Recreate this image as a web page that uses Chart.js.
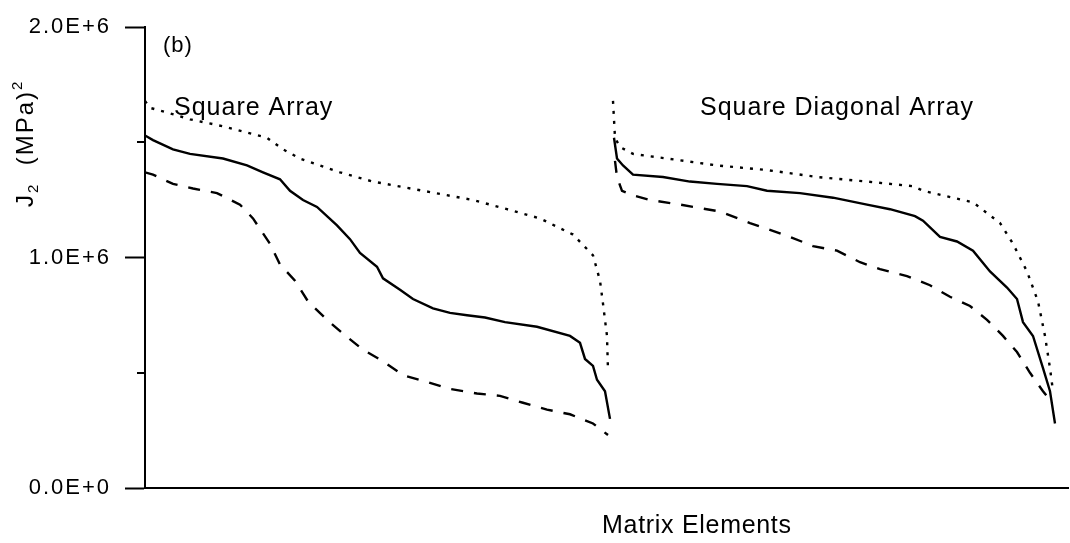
<!DOCTYPE html>
<html>
<head>
<meta charset="utf-8">
<script src="https://cdn.jsdelivr.net/npm/chart.js@4.4.1/dist/chart.umd.min.js"></script>
<style>
  html, body { margin: 0; padding: 0; background: #fff; }
</style>
</head>
<body>
<canvas id="j2Chart" width="1070" height="543"></canvas>
<script>
/* ================================================================
   J2 along the matrix elements, panel (b)
   two fibre arrangements, three curves each (upper / mid / lower)
   values are J2 in units of 1E+6 MPa^2
================================================================ */
const FONT = "'Liberation Sans', Arial, Helvetica, sans-serif";
const INK  = "#000";
const MEGA = 1e6;

/* ── axes ── */
const Y_MIN = 0, Y_MAX = 2.0, Y_STEP = 1.0;
const Y_MINOR = [0.5, 1.5];
const X_MAX = 923;               /* matrix element index range */

/* ── Square Array ── */
const saUpperX = [0, 5, 30, 45, 78, 122, 138, 155, 195, 228, 278, 328, 362, 395, 428, 448, 455, 458, 462, 463];
const saUpperY = [1.68, 1.65, 1.62, 1.60, 1.57, 1.52, 1.47, 1.43, 1.37, 1.33, 1.29, 1.25, 1.21, 1.17, 1.10, 1.01, 0.90, 0.80, 0.66, 0.51];

const saMidX = [0, 8, 28, 45, 78, 102, 118, 135, 145, 158, 172, 192, 205, 215, 232, 238, 255, 268, 288, 305, 322, 340, 360, 392, 425, 435, 440, 448, 452, 460, 465];
const saMidY = [1.53, 1.51, 1.47, 1.45, 1.43, 1.40, 1.37, 1.34, 1.29, 1.25, 1.22, 1.14, 1.08, 1.02, 0.96, 0.91, 0.86, 0.82, 0.78, 0.76, 0.75, 0.74, 0.72, 0.70, 0.66, 0.63, 0.56, 0.53, 0.47, 0.42, 0.30];

const saLowX = [0, 8, 28, 48, 72, 95, 108, 125, 135, 150, 163, 182, 198, 218, 238, 258, 282, 305, 332, 355, 378, 402, 425, 448, 463];
const saLowY = [1.37, 1.36, 1.32, 1.30, 1.28, 1.23, 1.17, 1.06, 0.97, 0.90, 0.81, 0.73, 0.67, 0.60, 0.55, 0.49, 0.46, 0.43, 0.41, 0.40, 0.37, 0.34, 0.32, 0.28, 0.23];

/* ── Square Diagonal Array ── */
const sdUpperX = [468, 470, 475, 488, 522, 572, 622, 672, 722, 768, 778, 828, 855, 868, 882, 893, 900, 905, 908];
const sdUpperY = [1.68, 1.52, 1.48, 1.45, 1.43, 1.40, 1.38, 1.35, 1.33, 1.31, 1.29, 1.24, 1.15, 1.06, 0.94, 0.81, 0.66, 0.52, 0.42];

const sdMidX = [469, 472, 478, 488, 518, 545, 572, 602, 622, 655, 688, 722, 745, 770, 778, 795, 812, 828, 845, 862, 872, 878, 888, 898, 905, 910];
const sdMidY = [1.52, 1.43, 1.40, 1.36, 1.35, 1.33, 1.32, 1.31, 1.29, 1.28, 1.26, 1.23, 1.21, 1.18, 1.16, 1.09, 1.07, 1.03, 0.94, 0.87, 0.82, 0.72, 0.66, 0.52, 0.42, 0.28];

const sdLowX = [470, 472, 477, 488, 505, 535, 575, 605, 625, 645, 668, 692, 715, 735, 762, 785, 805, 825, 842, 858, 872, 885, 898, 907];
const sdLowY = [1.42, 1.35, 1.29, 1.27, 1.25, 1.23, 1.20, 1.15, 1.12, 1.09, 1.05, 1.03, 0.98, 0.95, 0.92, 0.88, 0.83, 0.79, 0.73, 0.66, 0.59, 0.50, 0.42, 0.37];

/* ── text labels (placed in data space) ── */
const NOTES = [
  { text: "(b)",                   x: 18,  y: 1.894, size: 22, gap: 1 },
  { text: "Square Array",          x: 29,  y: 1.617, size: 25, gap: 1 },
  { text: "Square Diagonal Array", x: 555, y: 1.621, size: 25, gap: 1 },
];
const X_TITLE = "Matrix Elements";

/* line styles */
const DOT  = [3, 7];
const DASH = [12, 11];

function series(xs, ys, dash) {
  return {
    data: xs.map((x, i) => ({ x, y: ys[i] * MEGA })),
    borderColor: INK, borderWidth: 2.4, borderDash: dash,
    pointRadius: 0, tension: 0, fill: false,
  };
}

function spaced(ctx, str, x, y, size, gap) {
  ctx.font = `${size}px ${FONT}`;
  ctx.letterSpacing = gap + "px";
  ctx.fillText(str, x, y);
}

/* minor ticks, axis titles and the in-plot notes */
const extras = {
  id: "extras",
  beforeDraw(chart) { chart.ctx.letterSpacing = "2px"; },
  afterDraw(chart) {
    const { ctx, chartArea: a, scales: { x, y } } = chart;
    ctx.save();
    ctx.strokeStyle = INK; ctx.lineWidth = 2;
    Y_MINOR.forEach(v => {
      const py = Math.round(y.getPixelForValue(v * MEGA));
      ctx.beginPath(); ctx.moveTo(a.left - 8, py); ctx.lineTo(a.left, py); ctx.stroke();
    });

    ctx.fillStyle = INK;
    ctx.textAlign = "left"; ctx.textBaseline = "alphabetic";
    NOTES.forEach(n => spaced(ctx, n.text, x.getPixelForValue(n.x), y.getPixelForValue(n.y * MEGA), n.size, n.gap));

    spaced(ctx, X_TITLE, 602, 533, 25, 0.7);

    /* y title: J2 (MPa)^2, rotated */
    ctx.translate(33, 207);
    ctx.rotate(-Math.PI / 2);
    let cx = 0;
    const part = (s, size, dy, gap) => {
      spaced(ctx, s, cx, dy, size, gap);
      cx += ctx.measureText(s).width;
    };
    part("J", 24, 0, 2);
    part("2", 15, 5, 2);
    part("  (MPa)", 24, 0, 2);
    part("2", 15, -11, 0);
    ctx.restore();
  },
};

new Chart(document.getElementById("j2Chart").getContext("2d"), {
  type: "line",
  data: {
    datasets: [
      series(saUpperX, saUpperY, DOT),
      series(saMidX,   saMidY,   []),
      series(saLowX,   saLowY,   DASH),
      series(sdUpperX, sdUpperY, DOT),
      series(sdMidX,   sdMidY,   []),
      series(sdLowX,   sdLowY,   DASH),
    ],
  },
  options: {
    responsive: false, animation: false,
    layout: { padding: { top: 17, right: 2, left: 0, bottom: 0 } },
    plugins: { legend: { display: false }, tooltip: { enabled: false } },
    scales: {
      x: {
        type: "linear", min: 0, max: X_MAX,
        ticks: { display: false },
        grid: { drawOnChartArea: false, drawTicks: false },
        border: { display: true, color: INK, width: 2 },
        afterFit: s => { s.height = 55; },
      },
      y: {
        min: Y_MIN * MEGA, max: Y_MAX * MEGA,
        ticks: {
          stepSize: Y_STEP * MEGA, color: INK, padding: 14,
          font: { family: FONT, size: 22 },
          callback: v => v.toExponential(1).toUpperCase(),
        },
        grid: { drawOnChartArea: false, tickLength: 20, tickWidth: 2, tickColor: INK },
        border: { display: true, color: INK, width: 2 },
        afterFit: s => { s.width = 145; },
      },
    },
  },
  plugins: [extras],
});
</script>
</body>
</html>
